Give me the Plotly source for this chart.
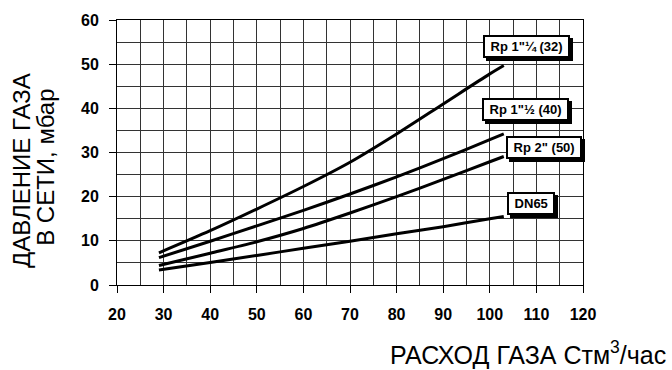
import plotly.graph_objects as go

# Data
flow = [29, 40, 50, 60, 70, 80, 90, 100, 103]
rp_1_14 = [7.3, 12.3, 17.2, 22.3, 27.8, 34.2, 41.0, 47.8, 49.7]
rp_1_12 = [6.2, 9.9, 13.4, 16.9, 20.6, 24.5, 28.6, 32.9, 34.2]
rp_2 = [4.4, 7.2, 9.8, 12.8, 16.3, 20.0, 23.9, 27.9, 29.1]
dn65 = [3.4, 5.1, 6.7, 8.3, 9.9, 11.6, 13.2, 15.0, 15.5]

series = [rp_1_14, rp_1_12, rp_2, dn65]

labels = ['Rp 1"¼ (32)', 'Rp 1"½ (40)', 'Rp 2" (50)', 'DN65']
label_x = [107.9, 107.7, 111.6, 108.8]
label_y = [54.1, 39.8, 31.2, 18.5]

x_title = "РАСХОД ГАЗА Стм<sup>3</sup>/час"
y_title_lines = ["ДАВЛЕНИЕ ГАЗА", "В СЕТИ, мбар"]

FONT = "Arial, Liberation Sans, sans-serif"

fig = go.Figure()
for s in series:
    fig.add_trace(go.Scatter(x=flow, y=s, mode="lines",
                             line=dict(color="black", width=3, shape="spline", smoothing=0.8),
                             showlegend=False, hoverinfo="skip"))

annotations = []
for t, lx, ly in zip(labels, label_x, label_y):
    txt = "&nbsp;" + t + "&nbsp;"
    # shadow
    annotations.append(dict(x=lx, y=ly, xref="x", yref="y", text=txt,
                            showarrow=False, xshift=3, yshift=-3,
                            font=dict(family=FONT, size=13, color="black", weight="bold"),
                            bgcolor="black", bordercolor="black", borderwidth=2, borderpad=2))
    annotations.append(dict(x=lx, y=ly, xref="x", yref="y", text=txt,
                            showarrow=False,
                            font=dict(family=FONT, size=13, color="black", weight="bold"),
                            bgcolor="white", bordercolor="black", borderwidth=2, borderpad=2))

annotations.append(dict(x=0.882, y=-0.256, xref="paper", yref="paper", text=x_title,
                        showarrow=False, xanchor="center", yanchor="middle",
                        font=dict(family=FONT, size=25, color="black")))
for txt, px, py in zip(y_title_lines, [-0.205, -0.155], [0.432, 0.445]):
    annotations.append(dict(x=px, y=py, xref="paper", yref="paper", text=txt,
                            showarrow=False, xanchor="center", yanchor="middle", textangle=-90,
                            font=dict(family=FONT, size=24, color="black")))

axis_common = dict(showline=True, linecolor="black", linewidth=1, mirror=True,
                   showgrid=True, gridcolor="#333333", gridwidth=1,
                   zeroline=False, ticks="outside", tickcolor="black", tickwidth=1,
                   tickfont=dict(family=FONT, size=16, color="black", weight="bold"),
                   minor=dict(dtick=5, showgrid=True, gridcolor="#333333", gridwidth=1))

fig.update_xaxes(range=[20, 120], dtick=10, tick0=20, ticklen=7,
                 ticklabelstandoff=8, **axis_common)
fig.update_yaxes(range=[0, 60], dtick=10, tick0=0, ticklen=7,
                 ticklabelstandoff=7, **axis_common)

fig.update_layout(width=672, height=370,
                  margin=dict(l=117, r=89, t=12, b=85),
                  plot_bgcolor="white", paper_bgcolor="white",
                  annotations=annotations, showlegend=False)

fig.write_html("out.html")
